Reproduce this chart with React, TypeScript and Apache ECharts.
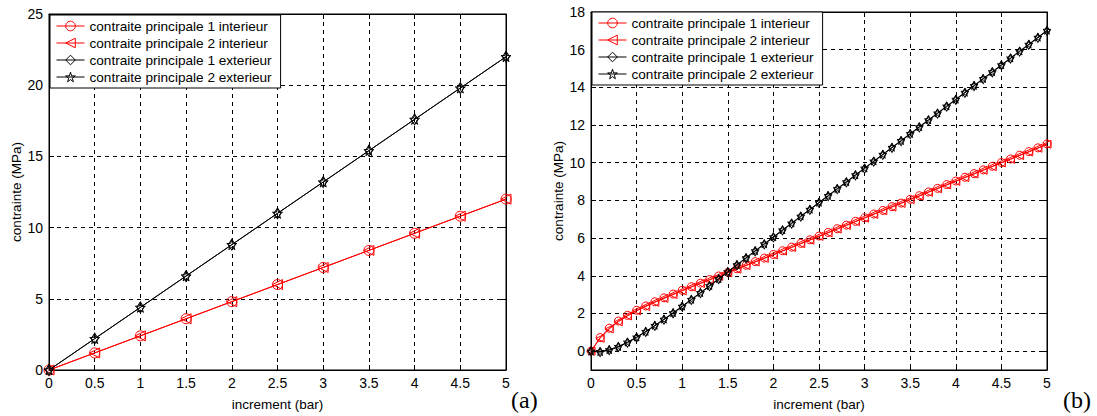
import React, { useEffect, useRef } from "react";
import * as echarts from "echarts";

const seriesNames = [
  "contraite principale 1 interieur",
  "contraite principale 2 interieur",
  "contraite principale 1 exterieur",
  "contraite principale 2 exterieur",
];

// Chart (a)
const incrementA = [0, 0.5, 1, 1.5, 2, 2.5, 3, 3.5, 4, 4.5, 5];
const int1A = [0, 1.2, 2.4, 3.6, 4.8, 6.0, 7.2, 8.4, 9.6, 10.8, 12.0];
const int2A = [0, 1.2, 2.4, 3.6, 4.8, 6.0, 7.2, 8.4, 9.6, 10.8, 12.0];
const ext1A = [0, 2.2, 4.4, 6.6, 8.8, 11.0, 13.2, 15.4, 17.6, 19.8, 22.0];
const ext2A = [0, 2.2, 4.4, 6.6, 8.8, 11.0, 13.2, 15.4, 17.6, 19.8, 22.0];

// Chart (b)
const incrementB = [
  0, 0.1, 0.2, 0.3, 0.4, 0.5, 0.6, 0.7, 0.8, 0.9, 1.0, 1.1, 1.2, 1.3, 1.4, 1.5, 1.6, 1.7, 1.8, 1.9,
  2.0, 2.1, 2.2, 2.3, 2.4, 2.5, 2.6, 2.7, 2.8, 2.9, 3.0, 3.1, 3.2, 3.3, 3.4, 3.5, 3.6, 3.7, 3.8, 3.9,
  4.0, 4.1, 4.2, 4.3, 4.4, 4.5, 4.6, 4.7, 4.8, 4.9, 5.0,
];
const int1B = [
  0, 0.72, 1.22, 1.6, 1.9, 2.17, 2.4, 2.62, 2.83, 3.03, 3.23, 3.42, 3.61, 3.8, 3.99, 4.18, 4.37, 4.56, 4.75, 4.94,
  5.13, 5.33, 5.52, 5.72, 5.91, 6.11, 6.3, 6.5, 6.69, 6.89, 7.08, 7.28, 7.47, 7.67, 7.86, 8.06, 8.25, 8.45, 8.64, 8.84,
  9.03, 9.23, 9.42, 9.62, 9.81, 10.01, 10.2, 10.4, 10.59, 10.79, 11.0,
];
const int2B = [
  0, 0.68, 1.18, 1.56, 1.87, 2.14, 2.37, 2.59, 2.8, 3.0, 3.2, 3.4, 3.59, 3.78, 3.97, 4.16, 4.35, 4.54, 4.73, 4.92,
  5.11, 5.31, 5.5, 5.7, 5.89, 6.09, 6.28, 6.48, 6.67, 6.87, 7.06, 7.26, 7.45, 7.65, 7.84, 8.04, 8.23, 8.43, 8.62, 8.82,
  9.01, 9.21, 9.4, 9.6, 9.79, 9.99, 10.18, 10.38, 10.57, 10.77, 10.98,
];
const ext1B = [
  0, -0.05, 0.05, 0.22, 0.45, 0.72, 1.02, 1.34, 1.67, 2.01, 2.36, 2.72, 3.08, 3.45, 3.82, 4.19, 4.56, 4.93, 5.3, 5.67,
  6.04, 6.41, 6.77, 7.14, 7.5, 7.87, 8.23, 8.6, 8.96, 9.33, 9.69, 10.06, 10.42, 10.79, 11.15, 11.52, 11.88, 12.25, 12.61, 12.98,
  13.34, 13.71, 14.07, 14.44, 14.8, 15.17, 15.53, 15.9, 16.26, 16.63, 17.0,
];
const ext2B = [
  0, -0.02, 0.08, 0.25, 0.48, 0.75, 1.05, 1.37, 1.7, 2.04, 2.39, 2.75, 3.11, 3.48, 3.85, 4.22, 4.59, 4.96, 5.33, 5.7,
  6.07, 6.44, 6.8, 7.17, 7.53, 7.9, 8.26, 8.63, 8.99, 9.36, 9.72, 10.09, 10.45, 10.82, 11.18, 11.55, 11.91, 12.28, 12.64, 13.01,
  13.37, 13.74, 14.1, 14.47, 14.83, 15.2, 15.56, 15.93, 16.29, 16.66, 17.03,
];
const yTicksB = [0, 2, 4, 6, 8, 10, 12, 14, 16, 18];

const FONT = "'Liberation Sans', Arial, sans-serif";
const RED = "#ff0000";
const BLACK = "#000000";
const TRI_LEFT = "path://M0,50L100,0L100,100Z";
const STAR =
  "path://M50,0L61,35L98,35L68,57L79,91L50,70L21,91L32,57L2,35L39,35Z";

const styles = [
  { color: RED, symbol: "circle" },
  { color: RED, symbol: TRI_LEFT },
  { color: BLACK, symbol: "diamond" },
  { color: BLACK, symbol: STAR },
];

function mkSeries(idx: number, xs: number[], ys: number[], g: number, sizes: any[]) {
  const st = styles[idx];
  return {
    type: "line",
    name: seriesNames[idx],
    xAxisIndex: g * 2,
    yAxisIndex: g * 2,
    data: xs.map((x, i) => [x, ys[i]]),
    symbol: st.symbol,
    symbolSize: sizes[idx],
    showAllSymbol: true,
    clip: false,
    lineStyle: { color: st.color, width: 1 },
    itemStyle: { color: "transparent", borderColor: st.color, borderWidth: 1 },
    emphasis: { disabled: true },
    z: 3 + idx,
  };
}

function mkLegend(left: number, top: number) {
  return {
    orient: "vertical",
    left,
    top,
    padding: [4, 9, 4, 6],
    itemGap: 3,
    itemWidth: 28,
    itemHeight: 12,
    backgroundColor: "#ffffff",
    borderColor: "#000000",
    borderWidth: 1,
    borderRadius: 0,
    selectedMode: false,
    textStyle: { fontFamily: FONT, fontSize: 13.6, color: "#000" },
    data: seriesNames.map((n, i) => ({
      name: n,
      itemStyle: { color: "transparent", borderColor: styles[i].color, borderWidth: 1 },
      lineStyle: { color: styles[i].color, width: 1 },
    })),
    z: 20,
  };
}

const axisLabelStyle = { fontFamily: FONT, fontSize: 14, color: "#000" };
const nameStyle = { fontFamily: FONT, fontSize: 13.5, color: "#000" };
const splitLine = { show: true, lineStyle: { color: "#000", type: [4, 4], width: 1 } };
const axisLine = { show: true, onZero: false, lineStyle: { color: "#000", width: 1 } };

function xAxes(g: number) {
  return [
    {
      type: "value",
      gridIndex: g,
      min: 0,
      max: 5,
      interval: 0.5,
      position: "bottom",
      axisLine,
      axisTick: { show: true, inside: true, length: 5, lineStyle: { color: "#000" } },
      axisLabel: { ...axisLabelStyle, margin: 6 },
      splitLine,
      name: "increment (bar)",
      nameLocation: "middle",
      nameGap: 27,
      nameTextStyle: nameStyle,
    },
    {
      type: "value",
      gridIndex: g,
      min: 0,
      max: 5,
      interval: 0.5,
      position: "top",
      axisLine,
      axisTick: { show: true, inside: true, length: 5, lineStyle: { color: "#000" } },
      axisLabel: { show: false },
      splitLine: { show: false },
    },
  ];
}

export default function App() {
  const ref = useRef<HTMLDivElement>(null);
  useEffect(() => {
    if (!ref.current) return;
    const chart = echarts.init(ref.current, undefined, { renderer: "svg" });
    const sizesA = [10, 10, [7, 11], 10];
    const sizesB = [8, 8, [6, 9], 8];
    const option: any = {
      animation: false,
      backgroundColor: "#ffffff",
      grid: [
        { left: 49, top: 14, width: 457, height: 360, show: true, borderColor: "#000", borderWidth: 1, backgroundColor: "#fff" },
        { left: 591, top: 12, width: 456, height: 361, show: true, borderColor: "#000", borderWidth: 1, backgroundColor: "#fff" },
      ],
      legend: [mkLegend(50, 15), mkLegend(592, 12)],
      xAxis: [...xAxes(0), ...xAxes(1)],
      yAxis: [
        {
          type: "value",
          gridIndex: 0,
          min: 0,
          max: 25,
          interval: 5,
          position: "left",
          axisLine,
          axisTick: { show: true, inside: true, length: 5, lineStyle: { color: "#000" } },
          axisLabel: { ...axisLabelStyle, margin: 6 },
          splitLine,
          name: "contrainte (MPa)",
          nameLocation: "middle",
          nameGap: 24,
          nameTextStyle: nameStyle,
        },
        {
          type: "value",
          gridIndex: 0,
          min: 0,
          max: 25,
          interval: 5,
          position: "right",
          axisLine,
          axisTick: { show: true, inside: true, length: 5, lineStyle: { color: "#000" } },
          axisLabel: { show: false },
          splitLine: { show: false },
        },
        {
          type: "value",
          gridIndex: 1,
          min: -1,
          max: 18,
          position: "left",
          axisLine,
          axisTick: { show: true, inside: true, length: 5, lineStyle: { color: "#000" }, customValues: yTicksB },
          axisLabel: { ...axisLabelStyle, margin: 6, customValues: yTicksB },
          splitLine,
          name: "contrainte (MPa)",
          nameLocation: "middle",
          nameGap: 24,
          nameTextStyle: nameStyle,
        },
        {
          type: "value",
          gridIndex: 1,
          min: -1,
          max: 18,
          position: "right",
          axisLine,
          axisTick: { show: true, inside: true, length: 5, lineStyle: { color: "#000" }, customValues: yTicksB },
          axisLabel: { show: false },
          splitLine: { show: false },
        },
      ],
      series: [
        mkSeries(0, incrementA, int1A, 0, sizesA),
        mkSeries(1, incrementA, int2A, 0, sizesA),
        mkSeries(2, incrementA, ext1A, 0, sizesA),
        mkSeries(3, incrementA, ext2A, 0, sizesA),
        mkSeries(0, incrementB, int1B, 1, sizesB),
        mkSeries(1, incrementB, int2B, 1, sizesB),
        mkSeries(2, incrementB, ext1B, 1, sizesB),
        mkSeries(3, incrementB, ext2B, 1, sizesB),
      ],
      graphic: [
        {
          type: "text",
          left: 511,
          top: 388,
          style: { text: "(a)", fontFamily: "'Liberation Serif', 'Times New Roman', serif", fontSize: 24, fill: "#000" },
        },
        {
          type: "text",
          left: 1063,
          top: 388,
          style: { text: "(b)", fontFamily: "'Liberation Serif', 'Times New Roman', serif", fontSize: 24, fill: "#000" },
        },
      ],
    };
    chart.setOption(option);
    return () => chart.dispose();
  }, []);
  return (
    <div
      ref={ref}
      style={{ position: "absolute", left: 0, top: 0, width: 1097, height: 416, background: "#fff" }}
    />
  );
}
